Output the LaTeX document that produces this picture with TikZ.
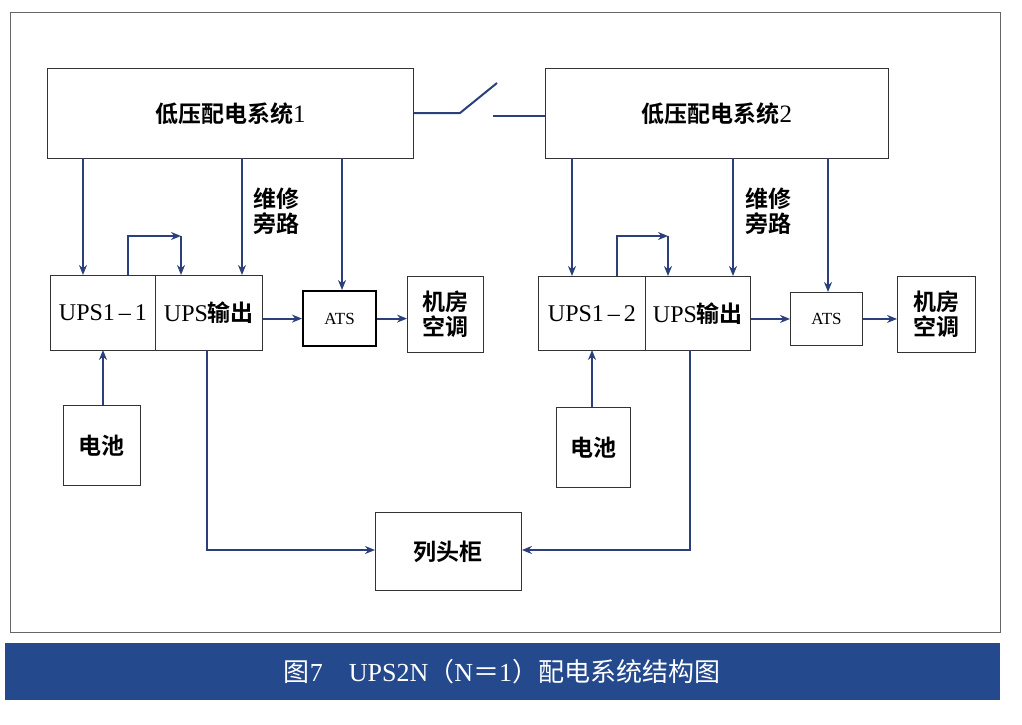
\documentclass[tikz,border=0pt]{standalone}
\usepackage{fontspec}
\setmainfont{Liberation Serif}
\newfontfamily\cjk[BoldFont={Noto Sans CJK SC Bold}]{Noto Sans CJK SC}
\usetikzlibrary{arrows.meta}
\definecolor{ln}{HTML}{2B3F7A}
\definecolor{ban}{HTML}{24498C}
\begin{document}
\begin{tikzpicture}[x=1pt,y=-1pt,
  box/.style={draw=black!80,line width=0.9pt,fill=white,inner sep=0pt},
  t/.style={font=\fontsize{24}{28}\selectfont},
  c/.style={font=\fontsize{23}{27}\selectfont\cjk\bfseries,align=center},
  conn/.style={draw=ln,line width=2pt,-{Stealth[length=10pt,width=8pt]}},
  plain/.style={draw=ln,line width=2pt}]
\useasboundingbox (0,0) rectangle (1022,725);
\fill[white] (0,0) rectangle (1022,725);
\draw[black!60,line width=0.8pt] (10,12) rectangle (1000,632);
\fill[ban] (5,643) rectangle (1000,700);
\node[text=white,font=\fontsize{26}{30}\selectfont] (cap) at (502,672) {{\cjk 图}7\quad UPS2N{\cjk （}N{\cjk ＝}1{\cjk ）配电系统结构图}};
\newcommand\bx[5]{\node[box,minimum width=#4-#2,minimum height=#5-#3,anchor=north west] (#1) at (#2,#3) {};}
\bx{lv1}{47}{68}{413}{158}
\node[c] at (lv1) {低压配电系统{\rmfamily\mdseries\fontsize{25}{28}\selectfont 1}};
\bx{lv2}{545}{68}{888}{158}
\node[c] at (lv2) {低压配电系统{\rmfamily\mdseries\fontsize{25}{28}\selectfont 2}};
\bx{ua}{50}{275}{155}{350}\node[t] at (ua) {UPS1\,--\,1};
\bx{oa}{155}{275}{262}{350}\node[t] at (oa) {UPS{\cjk\bfseries\fontsize{23}{27}\selectfont 输出}};
\node[draw=black,line width=2.2pt,fill=white,minimum width=73,minimum height=55,anchor=north west,font=\fontsize{17}{20}\selectfont] (atsa) at (302,290) {ATS};
\bx{aca}{407}{276}{483}{352}\node[c] at (aca) {机房\\[-2pt]空调};
\bx{ba}{63}{405}{140}{485}\node[c] at (ba) {电池};
\bx{lt}{375}{512}{521}{590}\node[c] at (lt) {列头柜};
\bx{ub}{538}{276}{645}{350}\node[t] at (ub) {UPS1\,--\,2};
\bx{ob}{645}{276}{750}{350}\node[t] at (ob) {UPS{\cjk\bfseries\fontsize{23}{27}\selectfont 输出}};
\node[box,minimum width=72,minimum height=53,anchor=north west,font=\fontsize{17}{20}\selectfont] (atsb) at (790,292) {ATS};
\bx{acb}{897}{276}{975}{352}\node[c] at (acb) {机房\\[-2pt]空调};
\bx{bb}{556}{407}{630}{487}\node[c] at (bb) {电池};
\coordinate (s1) at (460,113); \coordinate (s2) at (497,83); \coordinate (s3) at (493,116);
\draw[plain] (lv1.east|-s1) -- (s1) -- (s2);
\draw[plain] (s3) -- (lv2.west|-s3);
\node[c] (la) at (276,211) {维修\\[-2pt]旁路};
\node[c] (lb) at (768,211) {维修\\[-2pt]旁路};
\draw[conn] (83,158) -- (83,275);
\coordinate (ta) at (128,236); \coordinate (tb) at (181,236);
\draw[conn] (128,275) -- (ta) -- (tb);
\draw[conn] (tb) -- (181,275);
\draw[conn] (242,158) -- (242,275);
\draw[conn] (342,158) -- (atsa.north-|342,0);
\draw[conn] (oa.east|-atsa) -- (atsa.west);
\draw[conn] (atsa.east) -- (aca.west|-atsa);
\draw[conn] (ba.north-|103,0) -- (103,350);
\draw[conn] (207,350) |- (lt.west|-0,550);
\draw[conn] (572,158) -- (572,276);
\coordinate (tc) at (617,236); \coordinate (td) at (668,236);
\draw[conn] (617,276) -- (tc) -- (td);
\draw[conn] (td) -- (668,276);
\draw[conn] (733,158) -- (733,276);
\draw[conn] (828,158) -- (atsb.north-|828,0);
\draw[conn] (ob.east|-atsb) -- (atsb.west);
\draw[conn] (atsb.east) -- (acb.west|-atsb);
\draw[conn] (bb.north-|592,0) -- (592,350);
\draw[conn] (690,350) |- (lt.east|-0,550);
\end{tikzpicture}
\end{document}
